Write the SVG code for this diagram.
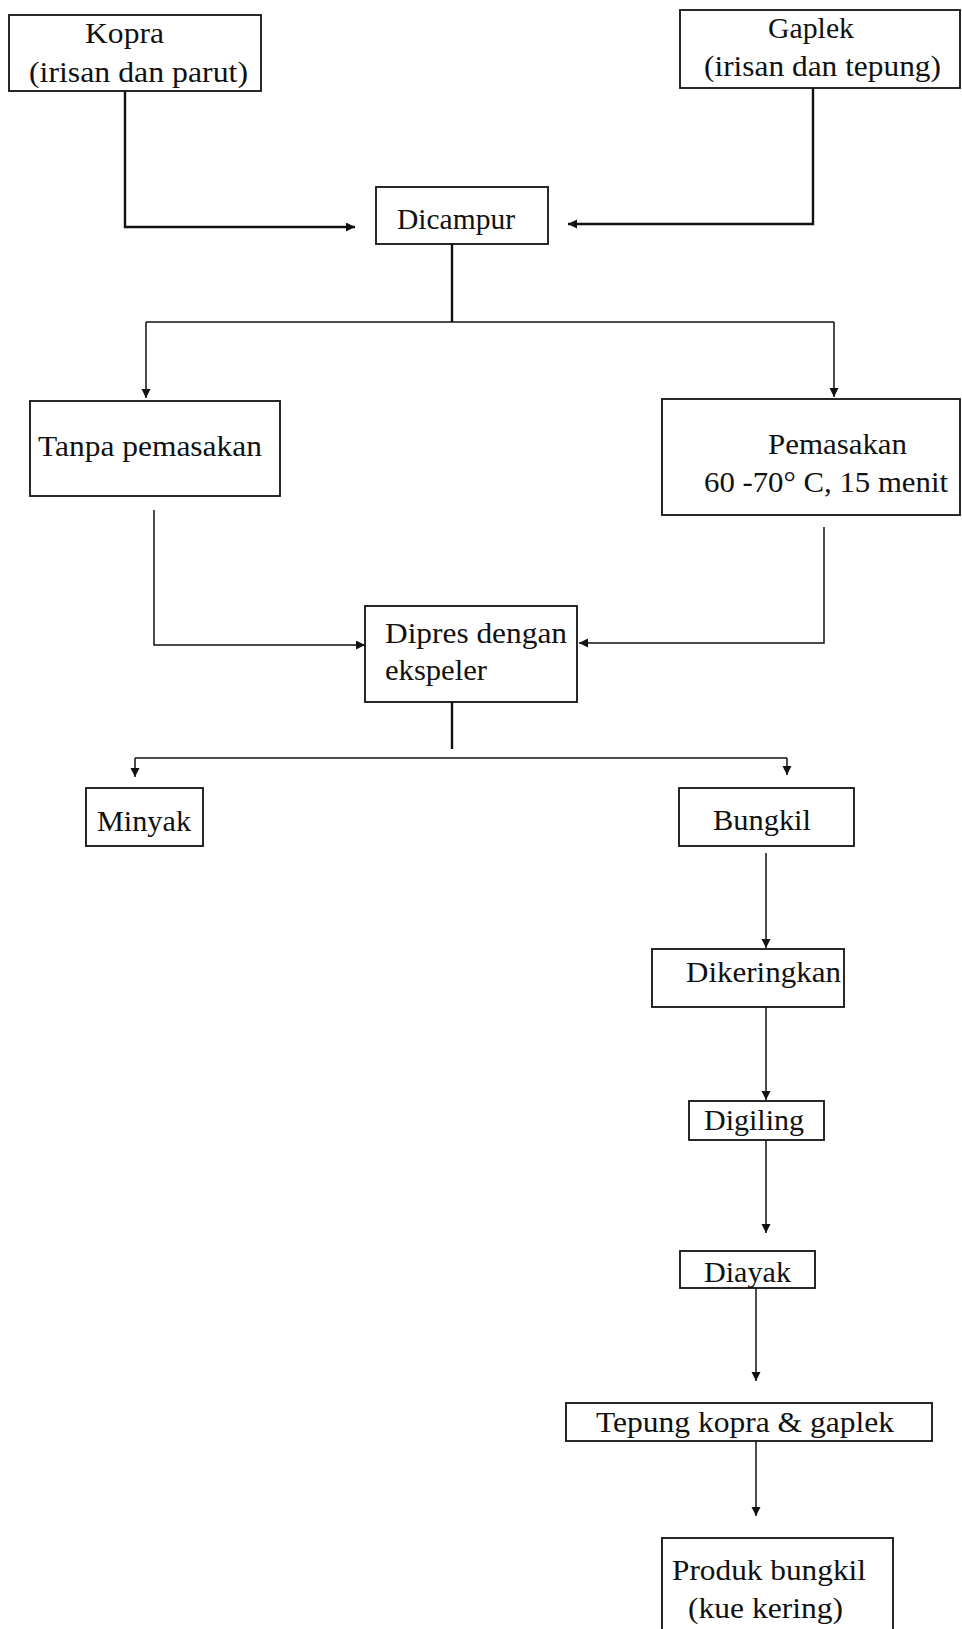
<svg xmlns="http://www.w3.org/2000/svg" width="962" height="1629" viewBox="0 0 962 1629">
<style>
  .box { fill: #ffffff; stroke: #111111; stroke-width: 1.8; }
  .lbl { font-family: "Liberation Serif", "Times New Roman", serif; font-size: 30px; fill: #111111; }
  .ln { fill: none; stroke: #111111; stroke-width: 1.5; }
  .thick { stroke-width: 2.4; }
  .arr { marker-end: url(#ah); }
</style>
<defs>
  <marker id="ah" markerUnits="userSpaceOnUse" markerWidth="10" markerHeight="10" refX="9" refY="4.5" orient="auto">
    <path d="M0,0 L9,4.5 L0,9 Z" fill="#111111"/>
  </marker>
</defs>
<rect width="962" height="1629" fill="#ffffff"/>

<g id="connectors">
  <path class="ln thick arr" d="M125,91 V227 H355"/>
  <path class="ln thick arr" d="M813,88 V224 H568"/>
  <path class="ln thick" d="M452,244 V322"/>
  <path class="ln" d="M146,322 H834"/>
  <path class="ln arr" d="M146,322 V398"/>
  <path class="ln arr" d="M834,322 V397"/>
  <path class="ln arr" d="M154,510 V645 H365"/>
  <path class="ln arr" d="M824,527 V643 H579"/>
  <path class="ln thick" d="M452,692 V749"/>
  <path class="ln" d="M135,758 H787"/>
  <path class="ln arr" d="M135,758 V777"/>
  <path class="ln arr" d="M787,758 V775"/>
  <path class="ln arr" d="M766,853 V948"/>
  <path class="ln arr" d="M766,1007 V1100"/>
  <path class="ln arr" d="M766,1140 V1233"/>
  <path class="ln arr" d="M756,1288 V1381"/>
  <path class="ln arr" d="M756,1441 V1516"/>
</g>

<g id="kopra">
  <rect class="box" x="9" y="15" width="252" height="76"/>
  <text class="lbl" x="85" y="43" textLength="79" lengthAdjust="spacingAndGlyphs">Kopra</text>
  <text class="lbl" x="29" y="82" textLength="219" lengthAdjust="spacingAndGlyphs">(irisan dan parut)</text>
</g>
<g id="gaplek">
  <rect class="box" x="680" y="10" width="280" height="78"/>
  <text class="lbl" x="768" y="38" textLength="86" lengthAdjust="spacingAndGlyphs">Gaplek</text>
  <text class="lbl" x="704" y="76" textLength="237" lengthAdjust="spacingAndGlyphs">(irisan dan tepung)</text>
</g>
<g id="dicampur">
  <rect class="box" x="376" y="187" width="172" height="57"/>
  <text class="lbl" x="397" y="229" textLength="118" lengthAdjust="spacingAndGlyphs">Dicampur</text>
</g>
<g id="tanpa-pemasakan">
  <rect class="box" x="30" y="401" width="250" height="95"/>
  <text class="lbl" x="38" y="456" textLength="224" lengthAdjust="spacingAndGlyphs">Tanpa pemasakan</text>
</g>
<g id="pemasakan">
  <rect class="box" x="662" y="399" width="298" height="116"/>
  <text class="lbl" x="768" y="454" textLength="139" lengthAdjust="spacingAndGlyphs">Pemasakan</text>
  <text class="lbl" x="704" y="492" textLength="244" lengthAdjust="spacingAndGlyphs">60 -70° C, 15 menit</text>
</g>
<g id="dipres">
  <rect class="box" x="365" y="606" width="212" height="96"/>
  <text class="lbl" x="385" y="643" textLength="182" lengthAdjust="spacingAndGlyphs">Dipres dengan</text>
  <text class="lbl" x="385" y="680" textLength="102" lengthAdjust="spacingAndGlyphs">ekspeler</text>
</g>
<g id="minyak">
  <rect class="box" x="86" y="788" width="117" height="58"/>
  <text class="lbl" x="97" y="831" textLength="94" lengthAdjust="spacingAndGlyphs">Minyak</text>
</g>
<g id="bungkil">
  <rect class="box" x="679" y="788" width="175" height="58"/>
  <text class="lbl" x="713" y="830" textLength="98" lengthAdjust="spacingAndGlyphs">Bungkil</text>
</g>
<g id="dikeringkan">
  <rect class="box" x="652" y="949" width="192" height="58"/>
  <text class="lbl" x="686" y="982" textLength="155" lengthAdjust="spacingAndGlyphs">Dikeringkan</text>
</g>
<g id="digiling">
  <rect class="box" x="689" y="1101" width="135" height="39"/>
  <text class="lbl" x="704" y="1130" textLength="100" lengthAdjust="spacingAndGlyphs">Digiling</text>
</g>
<g id="diayak">
  <rect class="box" x="680" y="1251" width="135" height="37"/>
  <text class="lbl" x="704" y="1282" textLength="87" lengthAdjust="spacingAndGlyphs">Diayak</text>
</g>
<g id="tepung">
  <rect class="box" x="566" y="1403" width="366" height="38"/>
  <text class="lbl" x="596" y="1432" textLength="298" lengthAdjust="spacingAndGlyphs">Tepung kopra &amp; gaplek</text>
</g>
<g id="produk">
  <rect class="box" x="662" y="1538" width="231" height="100"/>
  <text class="lbl" x="672" y="1580" textLength="194" lengthAdjust="spacingAndGlyphs">Produk bungkil</text>
  <text class="lbl" x="688" y="1618" textLength="155" lengthAdjust="spacingAndGlyphs">(kue kering)</text>
</g>
</svg>
